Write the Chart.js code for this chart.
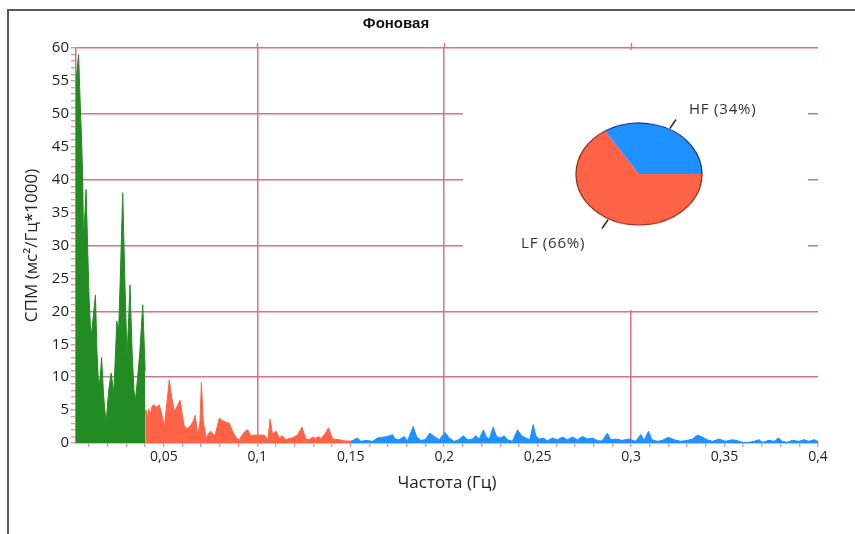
<!DOCTYPE html>
<html lang="ru">
<head>
    <meta charset="UTF-8">
    <title>Фоновая</title>
    <script src="https://cdn.jsdelivr.net/npm/chart.js@4.4.0/dist/chart.umd.min.js"></script>
    <style>
        html, body { margin: 0; padding: 0; background: #fff; }
        body { position: relative; width: 855px; height: 534px; overflow: hidden; font-family: "Open Sans", sans-serif; }
        .frame { position: absolute; left: 7px; top: 9px; width: 900px; height: 600px; border-left: 2px solid #5a5a5a; border-top: 2px solid #5a5a5a; }
        #spectrum { position: absolute; left: 0; top: 0; }
        .title { position: absolute; left: 396px; top: 22px; transform: translate(-50%, -50%); font: bold 15px "Liberation Sans", Arial, sans-serif; color: #111; }
        .inset { position: absolute; left: 463px; top: 50px; width: 345px; height: 260px; background: #fff; }
        #pie { position: absolute; left: 91px; top: 39px; transform: scaleY(0.81); transform-origin: 50% 50%; }
        .pie-label { position: absolute; font-size: 15px; line-height: 20px; letter-spacing: 0.8px; color: #333; white-space: nowrap; }
    </style>
</head>
<body>
    <div class="frame"></div>
    <canvas id="spectrum" width="855" height="534"></canvas>
    <div class="title">Фоновая</div>

    <!-- LF/HF pie inset -->
    <div class="inset">
        <canvas id="pie" width="170" height="170"></canvas>
        <div class="pie-label" id="hfLabel" style="left:226px; top:48px;"></div>
        <div class="pie-label" id="lfLabel" style="left:58px; top:182px;"></div>
    </div>

    <script>
        // VLF band (green)
        const vlfFreq = [
            0.003, 0.0044, 0.0052, 0.006, 0.0066, 0.007, 0.0078, 0.0084, 0.0092, 0.01,
            0.011, 0.0122, 0.0134, 0.0142, 0.0151, 0.016, 0.0167, 0.0178, 0.0191, 0.0205,
            0.0218, 0.0232, 0.0242, 0.0248, 0.0258, 0.0268, 0.028, 0.0292, 0.0303, 0.0312,
            0.0319, 0.033, 0.034, 0.0348, 0.036, 0.0372, 0.0387, 0.0395, 0.04
        ];
        const vlfPower = [
            55, 59, 52, 46, 40, 31, 35, 38.5, 30, 22,
            16, 19, 22.5, 14, 8.5, 10, 13, 7, 3, 8,
            10.6, 7.6, 14, 18.5, 17, 26, 38, 24, 13, 19,
            24, 14, 8, 6.5, 10, 14, 21, 15, 11
        ];

        // LF band (red)
        const lfFreq = [
            0.0400, 0.0405, 0.0412, 0.0419, 0.0426, 0.0437, 0.0449, 0.0460, 0.0476, 0.0488,
            0.0503, 0.0516, 0.0529, 0.0542, 0.0556, 0.0570, 0.0587, 0.0600, 0.0610, 0.0627,
            0.0645, 0.0658, 0.0668, 0.0681, 0.0693, 0.0701, 0.0711, 0.0726, 0.0740, 0.0752,
            0.0765, 0.0775, 0.0797, 0.0812, 0.0824, 0.0837, 0.0850, 0.0868, 0.0886, 0.0904,
            0.0921, 0.0935, 0.0948, 0.0966, 0.0984, 0.1010, 0.1037, 0.1057, 0.1068, 0.1082,
            0.1100, 0.1118, 0.1135, 0.1150, 0.1162, 0.1189, 0.1215, 0.1239, 0.1260, 0.1278,
            0.1296, 0.1314, 0.1328, 0.1340, 0.1358, 0.1381, 0.1403, 0.1439, 0.1470, 0.1500
        ];
        const lfPower = [
            4.5, 5, 3.8, 5.2, 4.2, 5.6, 5.8, 5.4, 5.8, 4.5,
            2.5, 6, 9.6, 7, 4.8, 5.5, 6.5, 4, 2.5, 2.2,
            2.7, 3.4, 4.2, 1.2, 3, 9.2, 3.2, 0.8, 1.5, 1.8,
            1.2, 1.3, 3.8, 3.4, 3.3, 3.1, 3.0, 1.8, 0.8, 0.5,
            1.3, 1.8, 2.0, 1.1, 1.2, 1.2, 1.2, 0.5, 3.6, 1.3,
            1.8, 0.8, 1.1, 0.5, 0.6, 0.8, 1.2, 2.4, 0.6, 0.5,
            0.9, 0.7, 1.0, 0.7, 1.2, 2.3, 0.6, 0.5, 0.3, 0.3
        ];

        // HF band (blue)
        const hfFreq = [
            0.1500, 0.1536, 0.1554, 0.1581, 0.1617, 0.1643, 0.1670, 0.1697, 0.1724, 0.1738,
            0.1759, 0.1786, 0.1804, 0.1834, 0.1852, 0.1875, 0.1898, 0.1923, 0.1947, 0.1973,
            0.2005, 0.2027, 0.2053, 0.2077, 0.2102, 0.2125, 0.2151, 0.2169, 0.2187, 0.2210,
            0.2223, 0.2241, 0.2262, 0.2280, 0.2303, 0.2321, 0.2339, 0.2365, 0.2392, 0.2415,
            0.2437, 0.2458, 0.2476, 0.2490, 0.2508, 0.2529, 0.2553, 0.2579, 0.2606, 0.2633,
            0.2659, 0.2686, 0.2713, 0.2740, 0.2766, 0.2793, 0.2820, 0.2845, 0.2873, 0.2891,
            0.2918, 0.2953, 0.2989, 0.3025, 0.3052, 0.3070, 0.3093, 0.3111, 0.3141, 0.3167,
            0.3199, 0.3230, 0.3266, 0.3301, 0.3328, 0.3355, 0.3381, 0.3408, 0.3435, 0.3471,
            0.3506, 0.3542, 0.3569, 0.3595, 0.3631, 0.3658, 0.3684, 0.3702, 0.3738, 0.3765,
            0.3788, 0.3809, 0.3836, 0.3863, 0.3898, 0.3925, 0.3952, 0.3979, 0.4000
        ];
        const hfPower = [
            0.25, 0.76, 0.25, 0.4, 0.25, 0.76, 0.86, 1.0, 1.27, 0.6,
            0.5, 1.0, 0.35, 2.5, 1.0, 0.4, 0.5, 1.5, 1.0, 0.5,
            1.6, 0.76, 0.25, 0.5, 1.1, 0.5, 0.6, 1.1, 0.6, 2.0,
            1.0, 0.6, 2.4, 1.0, 0.76, 1.1, 0.5, 0.25, 2.0, 1.1,
            0.76, 0.5, 2.8, 1.1, 0.6, 0.76, 0.35, 0.76, 0.5, 0.9,
            0.5, 0.9, 0.5, 1.0, 0.6, 0.76, 0.35, 0.3, 1.5, 0.5,
            0.6, 0.4, 0.6, 0.25, 1.3, 0.4, 1.8, 0.5, 0.25, 0.4,
            0.86, 0.5, 0.25, 0.4, 0.6, 1.2, 0.9, 0.5, 0.25, 0.6,
            0.25, 0.5, 0.35, 0.1, 0.1, 0.25, 0.5, 0.1, 0.4, 0.25,
            0.76, 0.25, 0.1, 0.4, 0.25, 0.5, 0.25, 0.5, 0.25
        ];

        // pie: share of LF / HF power
        const pieLabels = ['LF', 'HF'];
        const pieShares = [66, 34];

        // axes
        const xRange = [0.003, 0.4];
        const xMinorStep = 0.01;
        const xLabelTicks = [0.05, 0.1, 0.15, 0.2, 0.25, 0.3, 0.35, 0.4];
        const xGridTicks = [0.1, 0.2, 0.3];
        const yRange = [0, 60];
        const yMinorStep = 1;
        const yLabelTicks = [0, 5, 10, 15, 20, 25, 30, 35, 40, 45, 50, 55, 60];
        const yGridTicks = [10, 20, 30, 40, 50, 60];

        const gridPink = '#d9708c';
        const bandColors = ['#228B22', '#FF6347', '#1E90FF'];
        const pieBorders = ['#8b2a10', '#0b2a70'];

        const near = (list, v) => list.some(t => Math.abs(t - v) < 1e-9);
        const fmt = v => String(+v.toFixed(2)).replace('.', ',');

        function band(freq, power, color) {
            return {
                data: freq.map((f, i) => ({ x: f, y: power[i] })),
                borderColor: color,
                backgroundColor: color,
                borderWidth: 1,
                pointRadius: 0,
                tension: 0,
                fill: 'origin'
            };
        }

        // vertical grid lines poke a few px above the top line, like in the original
        const gridStubs = {
            id: 'gridStubs',
            afterDraw(chart) {
                const { ctx, chartArea, scales } = chart;
                ctx.save();
                ctx.strokeStyle = gridPink;
                ctx.lineWidth = 1.5;
                xGridTicks.forEach(v => {
                    const px = Math.round(scales.x.getPixelForValue(v)) + 0.5;
                    ctx.beginPath();
                    ctx.moveTo(px, chartArea.top - 5);
                    ctx.lineTo(px, chartArea.top);
                    ctx.stroke();
                });
                ctx.restore();
            }
        };

        new Chart(document.getElementById('spectrum'), {
            type: 'line',
            data: {
                datasets: [
                    band(vlfFreq, vlfPower, bandColors[0]),
                    band(lfFreq, lfPower, bandColors[1]),
                    band(hfFreq, hfPower, bandColors[2])
                ]
            },
            options: {
                responsive: false,
                animation: false,
                layout: { padding: { left: 18, right: 37, top: 48, bottom: 37 } },
                plugins: { legend: { display: false }, tooltip: { enabled: false } },
                scales: {
                    x: {
                        type: 'linear',
                        min: xRange[0],
                        max: xRange[1],
                        afterBuildTicks: s => {
                            const ticks = [];
                            for (let k = 1; k * xMinorStep <= xRange[1] + 1e-9; k++) ticks.push({ value: +(k * xMinorStep).toFixed(4) });
                            s.ticks = ticks;
                        },
                        afterFit: s => { s.height = 54; },
                        ticks: {
                            autoSkip: false,
                            maxRotation: 0,
                            padding: 2,
                            color: '#222',
                            font: { family: 'Open Sans', size: 14 },
                            callback: v => near(xLabelTicks, v) ? fmt(v) : ''
                        },
                        grid: {
                            color: c => (c.tick && near(xGridTicks, c.tick.value)) ? gridPink : 'rgba(0,0,0,0)',
                            lineWidth: 1.5,
                            tickLength: 4,
                            tickColor: gridPink,
                            tickWidth: 1
                        },
                        border: { color: gridPink, width: 1.5 },
                        title: {
                            display: true,
                            text: 'Частота (Гц)',
                            color: '#222',
                            font: { family: 'Open Sans', size: 17 },
                            padding: { top: 0, bottom: 4 }
                        }
                    },
                    y: {
                        min: yRange[0],
                        max: yRange[1],
                        afterBuildTicks: s => {
                            const ticks = [];
                            for (let k = 0; k * yMinorStep <= yRange[1]; k++) ticks.push({ value: k * yMinorStep });
                            s.ticks = ticks;
                        },
                        afterFit: s => { s.width = 58; },
                        ticks: {
                            autoSkip: false,
                            padding: 2,
                            color: '#222',
                            font: { family: 'Open Sans', size: 15 },
                            callback: v => near(yLabelTicks, v) ? String(v) : ''
                        },
                        grid: {
                            color: c => (c.tick && near(yGridTicks, c.tick.value)) ? gridPink : 'rgba(0,0,0,0)',
                            lineWidth: 1.5,
                            tickLength: 5,
                            tickColor: gridPink,
                            tickWidth: 1
                        },
                        border: { color: gridPink, width: 1.5 },
                        title: {
                            display: true,
                            text: 'СПМ (мс²/Гц*1000)',
                            color: '#222',
                            font: { family: 'Open Sans', size: 17 },
                            padding: { top: 4, bottom: 0 }
                        }
                    }
                }
            },
            plugins: [gridStubs]
        });

        // outer rim + short leader lines for the pie
        const pieRim = {
            id: 'pieRim',
            afterDatasetsDraw(chart) {
                const ctx = chart.ctx;
                chart.getDatasetMeta(0).data.forEach((arc, i) => {
                    const { x, y, startAngle, endAngle, outerRadius } = arc;
                    ctx.save();
                    ctx.strokeStyle = pieBorders[i];
                    ctx.lineWidth = 1.2;
                    ctx.beginPath();
                    ctx.arc(x, y, outerRadius, startAngle, endAngle);
                    ctx.stroke();
                    const mid = (startAngle + endAngle) / 2;
                    ctx.strokeStyle = '#222';
                    ctx.lineWidth = 1.6;
                    ctx.beginPath();
                    ctx.moveTo(x + Math.cos(mid) * outerRadius * 1.02, y + Math.sin(mid) * outerRadius * 1.02);
                    ctx.lineTo(x + Math.cos(mid) * outerRadius * 1.22, y + Math.sin(mid) * outerRadius * 1.22);
                    ctx.stroke();
                    ctx.restore();
                });
            }
        };

        new Chart(document.getElementById('pie'), {
            type: 'pie',
            data: {
                labels: pieLabels,
                datasets: [{
                    data: pieShares,
                    backgroundColor: [bandColors[1], bandColors[2]],
                    borderWidth: 0
                }]
            },
            options: {
                responsive: false,
                animation: false,
                rotation: 90,
                layout: { padding: 22 },
                plugins: { legend: { display: false }, tooltip: { enabled: false } }
            },
            plugins: [pieRim]
        });

        document.getElementById('lfLabel').textContent = pieLabels[0] + ' (' + pieShares[0] + '%)';
        document.getElementById('hfLabel').textContent = pieLabels[1] + ' (' + pieShares[1] + '%)';
    </script>
</body>
</html>
